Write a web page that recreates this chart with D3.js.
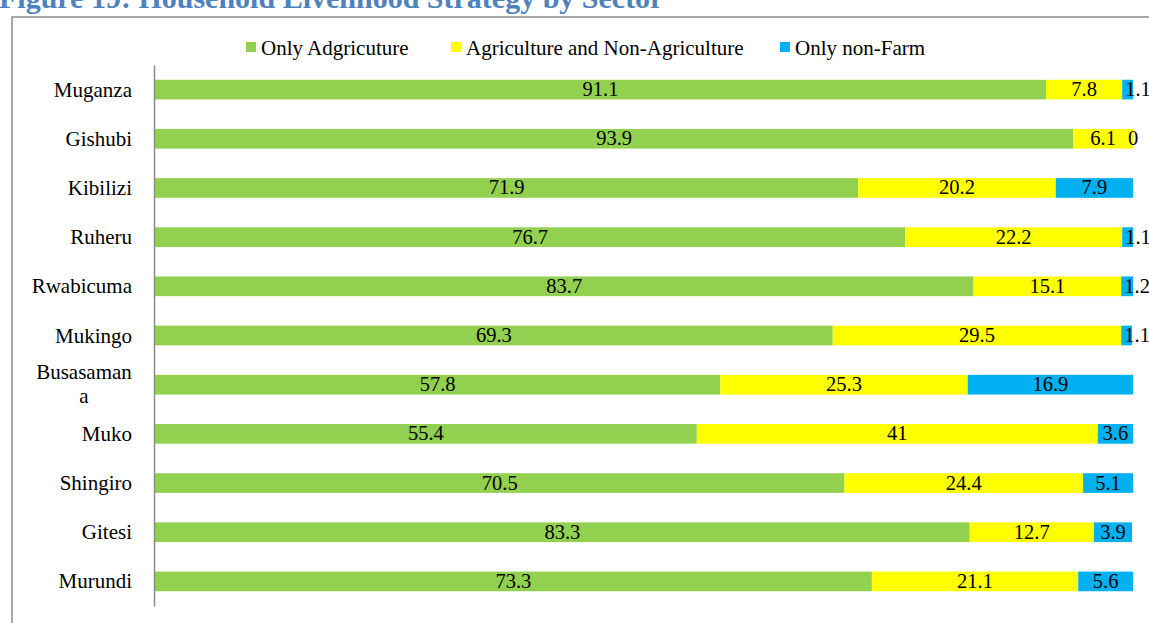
<!DOCTYPE html>
<html><head><meta charset="utf-8">
<script src="https://cdn.jsdelivr.net/npm/d3@7"></script>
<style>body{margin:0;background:#fff}svg{display:block}</style>
</head><body>
<script>
const categories = ["Muganza","Gishubi","Kibilizi","Ruheru","Rwabicuma","Mukingo","Busasamana","Muko","Shingiro","Gitesi","Murundi"];
const onlyAgriculture = [91.1,93.9,71.9,76.7,83.7,69.3,57.8,55.4,70.5,83.3,73.3];
const agriAndNonAgri = [7.8,6.1,20.2,22.2,15.1,29.5,25.3,41,24.4,12.7,21.1];
const onlyNonFarm = [1.1,0,7.9,1.1,1.2,1.1,16.9,3.6,5.1,3.9,5.6];
const seriesNames = ["Only Adgricuture","Agriculture and Non-Agriculture","Only non-Farm"];
const seriesColors = ["#92D050","#FFFF00","#00B0F0"];
const titleText = "Figure 19: Household Livelihood Strategy by Sector";

const W = 1149, H = 623;
const svg = d3.select("body").append("svg").attr("width", W).attr("height", H);
const font = "Liberation Serif, Times New Roman, serif";

function addText(x, yy, anchor, size, txt, opts = {}) {
  return svg.append("text").attr("x", x).attr("y", yy)
    .attr("text-anchor", anchor).attr("font-family", font)
    .attr("font-size", size).attr("fill", opts.fill || "#000")
    .attr("font-weight", opts.weight || "normal").text(txt);
}

// title (partially cut off at top)
addText(-1, 8, "start", 30, titleText, {weight: "bold", fill: "#4F81BD"});

// chart frame
svg.append("rect").attr("x", 12).attr("y", 17).attr("width", 1300).attr("height", 800)
  .attr("fill", "none").attr("stroke", "#8c8c8c").attr("stroke-width", 1.5);

const rows = categories.map((c, i) => ({cat: c, vals: [onlyAgriculture[i], agriAndNonAgri[i], onlyNonFarm[i]]}));
const stack = d3.stack().keys([0,1,2]).value((d, k) => d.vals[k]);
const stacked = stack(rows);

const x = d3.scaleLinear().domain([0, 100]).range([155, 1133]);
const y = d3.scaleBand().domain(categories).range([65, 606]).paddingInner(0.6).paddingOuter(0.3);

// bars
stacked.forEach((layer, si) => {
  svg.append("g").selectAll("rect").data(layer).join("rect")
    .attr("x", d => x(d[0])).attr("width", d => x(d[1]) - x(d[0]))
    .attr("y", d => y(d.data.cat)).attr("height", y.bandwidth())
    .attr("fill", seriesColors[si]);
});

// axis line
const yAxis = d3.axisLeft(y).tickSize(0).tickFormat("");
const ag = svg.append("g").attr("transform", "translate(154,0)").call(yAxis);
ag.select(".domain").attr("stroke", "#8c8c8c").attr("stroke-width", 1.5);

// category labels
categories.forEach(c => {
  const cy = y(c) + y.bandwidth() / 2;
  if (c === "Busasamana") {
    addText(84, cy - 6, "middle", 21, "Busasaman");
    addText(84, cy + 18, "middle", 21, "a");
  } else {
    addText(132, cy + 7, "end", 21, c);
  }
});

// data labels
stacked.forEach((layer, si) => {
  layer.forEach(d => {
    const v = d.data.vals[si];
    const x0 = x(d[0]), x1 = x(d[1]);
    const cy = y(d.data.cat) + y.bandwidth() / 2;
    const small = (x1 - x0) < 22 && v > 0;
    addText(small ? x0 + 3 : (x0 + x1) / 2, cy + 6.5, small ? "start" : "middle", 20.5, d3.format("")(v));
  });
});

// legend
const legendX = [246, 451, 780];
seriesNames.forEach((n, i) => {
  svg.append("rect").attr("x", legendX[i]).attr("y", 42).attr("width", 10).attr("height", 10).attr("fill", seriesColors[i]);
  addText(legendX[i] + 15, 55, "start", 21, n);
});
</script>
</body></html>
